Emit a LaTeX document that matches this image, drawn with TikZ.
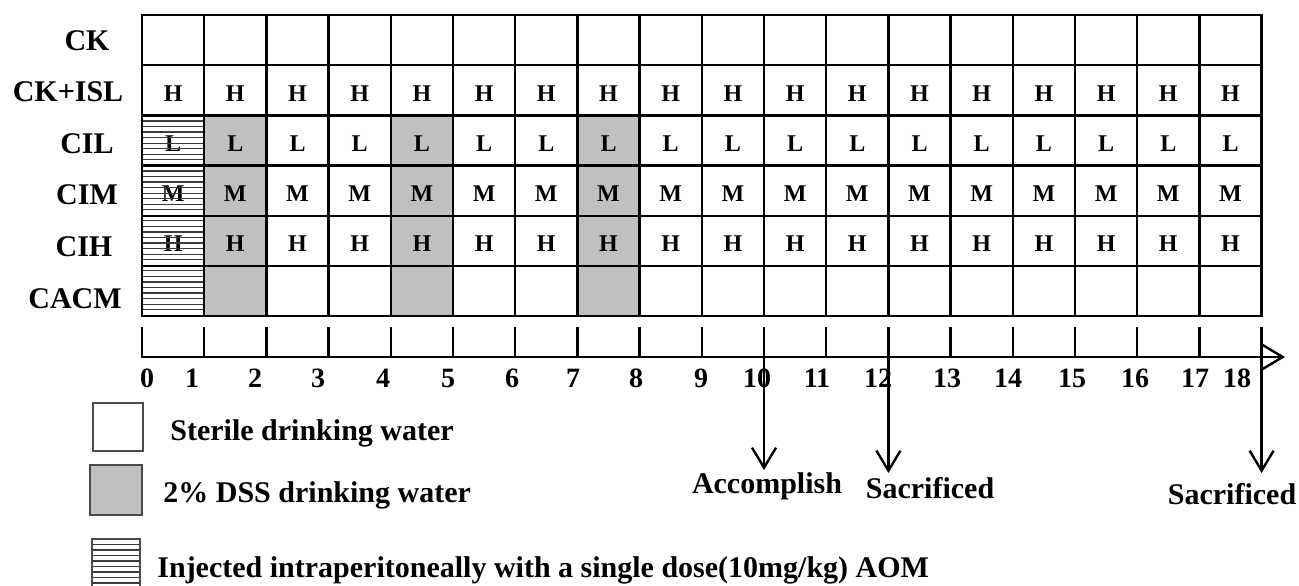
\documentclass[tikz,border=0pt]{standalone}
\usepackage{fontspec}
\setmainfont{Liberation Serif}
\usetikzlibrary{arrows.meta}
\definecolor{dss}{RGB}{192,192,192}
\definecolor{hatch}{RGB}{60,60,60}

\begin{document}
\begin{tikzpicture}[x=0.5pt,y=-0.5pt]
	\def\cw{62.2}
	\def\rh{50.2}
	\def\xo{142}
	\def\yo{15}

	\tikzset{line/.style={draw,line width=1.2pt}}
	\tikzset{arrow/.style={line,-{Straight Barb[length=10pt,width=12pt]}}}
	\tikzset{thin hatch/.style={draw=hatch,line width=0.6pt}}
	\tikzset{legbox/.style={draw=black!70,line width=0.8pt}}
	\tikzset{cell/.style={font=\bfseries\fontsize{12}{12}\selectfont,inner sep=0pt}}
	\tikzset{rowname/.style={font=\bfseries\fontsize{15}{15}\selectfont,inner sep=0pt,anchor=base}}
	\tikzset{daynum/.style={font=\bfseries\fontsize{14}{14}\selectfont,inner sep=0pt}}
	\tikzset{note/.style={font=\bfseries\fontsize{15}{15}\selectfont,inner sep=0pt}}

	\useasboundingbox[fill=white] (0,0) rectangle (1299,585);

	% DSS weeks
	\foreach \c in {2,5,8}
		\fill[dss] ({\xo+(\c-1)*\cw},{\yo+2*\rh}) rectangle ({\xo+\c*\cw},{\yo+6*\rh});

	% cell letters
	\foreach \c in {1,...,18}{
		\node[cell] (isl-\c) at ({\xo+(\c-0.5)*\cw},{\yo+1.5*\rh+3}) {H};
		\node[cell] (cil-\c) at ({\xo+(\c-0.5)*\cw},{\yo+2.5*\rh+3}) {L};
		\node[cell] (cim-\c) at ({\xo+(\c-0.5)*\cw},{\yo+3.5*\rh+3}) {M};
		\node[cell] (cih-\c) at ({\xo+(\c-0.5)*\cw},{\yo+4.5*\rh+3}) {H};
	}

	% AOM injection (first week)
	\foreach \k in {1,...,36}
		\draw[thin hatch] (\xo,{\yo+2*\rh+\k*5.55}) -- ({\xo+\cw},{\yo+2*\rh+\k*5.55});

	% grid
	\foreach \c in {1,...,17}
		\draw[line] ({\xo+\c*\cw},\yo) -- ({\xo+\c*\cw},{\yo+6*\rh});
	\foreach \r in {1,...,5}
		\draw[line] (\xo,{\yo+\r*\rh}) -- ({\xo+18*\cw},{\yo+\r*\rh});
	\draw[line] (\xo,\yo) rectangle ({\xo+18*\cw},{\yo+6*\rh});

	% group names
	\foreach \n/\t/\x [count=\r] in {ck/CK/87,ckisl/CK+ISL/68,cil/CIL/87,cim/CIM/87,cih/CIH/84,cacm/CACM/75}
		\node[rowname] (\n) at (\x,{50+51.6*(\r-1)}) {\t};

	% time axis
	\coordinate (origin) at (141,357);
	\coordinate (axis-end) at (1285,357);
	\foreach \c in {0,...,18}{
		\coordinate (t\c) at ({\xo+\c*\cw},327);
		\draw[line] (t\c) -- ++(0,30);
	}
	\draw[arrow] (origin) -- (axis-end);

	\foreach \n/\x in {0/147,1/192,2/255,3/318,4/383,5/448,6/512,7/573,8/636,9/701,10/757,11/817,12/878,13/947,14/1008,15/1072,16/1135,17/1195,18/1237}
		\node[daynum] (d\n) at (\x,378) {\n};

	% events
	\node[note,anchor=north] (acc) at (767,472) {Accomplish};
	\node[note,anchor=north] (sac1) at (930,477) {Sacrificed};
	\node[note,anchor=north] (sac2) at (1232,483) {Sacrificed};

	\draw[arrow,shorten >=1pt] (t10) -- (t10 |- acc.north);
	\draw[arrow,shorten >=2pt] (t12) -- (t12 |- sac1.north);
	\draw[arrow,shorten >=5pt] (t18) -- (t18 |- sac2.north);

	% legend
	\draw[legbox] (93,403) rectangle (143,451);
	\draw[legbox,fill=dss] (90,465) rectangle (142,515);
	\draw[legbox] (92,539) rectangle (140,592);
	\foreach \k in {1,...,9}
		\draw[thin hatch] (92,{539+\k*5.5}) -- (140,{539+\k*5.5});

	\node[note,anchor=base west] (sterile) at (170,440) {Sterile drinking water};
	\node[note,anchor=base west] (dsswater) at (163,502) {2\% DSS drinking water};
	\node[note,anchor=base west] (aom) at (157,577) {Injected intraperitoneally with a single dose(10mg/kg) AOM};
\end{tikzpicture}
\end{document}
